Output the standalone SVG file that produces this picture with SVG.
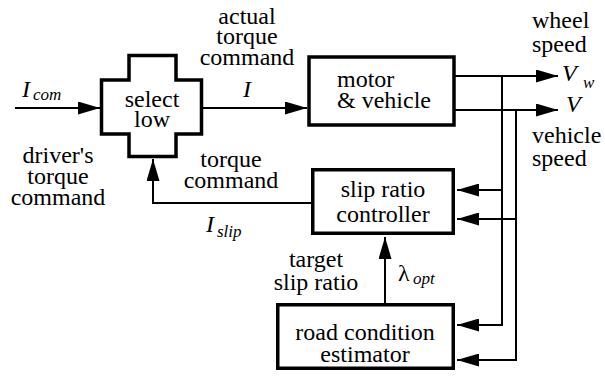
<svg xmlns="http://www.w3.org/2000/svg" width="605" height="376" viewBox="0 0 605 376">
  <style>
    .box { fill: #fff; stroke: #000; stroke-width: 3.5; }
    .wire { fill: none; stroke: #000; stroke-width: 2; }
    .c { text-anchor: middle; }
    .it { font-style: italic; }
    .sub { font-size: 17px; font-style: italic; }
  </style>
  <defs>
    <marker id="arrow" markerUnits="userSpaceOnUse" markerWidth="22" markerHeight="13" refX="22" refY="6.5" orient="auto">
      <path d="M0,0 L22,6.5 L0,13 Z" fill="#000"/>
    </marker>
  </defs>
  <rect width="605" height="376" fill="#fff"/>

  <!-- signal wires -->
  <g id="connectors">
    <path class="wire" d="M15,108 H100" marker-end="url(#arrow)"/>
    <path class="wire" d="M203,108 H307" marker-end="url(#arrow)"/>
    <path class="wire" d="M455,76 H558" marker-end="url(#arrow)"/>
    <path class="wire" d="M455,110 H558" marker-end="url(#arrow)"/>
    <path class="wire" d="M502,76 V325 H457" marker-end="url(#arrow)"/>
    <path class="wire" d="M502,190 H457" marker-end="url(#arrow)"/>
    <path class="wire" d="M516,110 V360 H457" marker-end="url(#arrow)"/>
    <path class="wire" d="M516,219 H457" marker-end="url(#arrow)"/>
    <path class="wire" d="M385,303 V237" marker-end="url(#arrow)"/>
    <path class="wire" d="M311,203 H153 V159" marker-end="url(#arrow)"/>
  </g>

  <g font-family="Liberation Serif, DejaVu Serif, serif" font-size="24" fill="#000">
    <!-- cross-shaped selector -->
    <g id="select-low">
      <path class="box" d="M129,55.5 H176 V80 H201.5 V134 H176 V156.5 H129 V134 H101.5 V80 H129 Z"/>
      <text class="c" x="152" y="107">select</text>
      <text class="c" x="152" y="127">low</text>
    </g>

    <g id="motor-vehicle">
      <rect class="box" x="309" y="57" width="145" height="68"/>
      <text x="337" y="87">motor</text>
      <text x="337" y="108">&amp; vehicle</text>
    </g>

    <g id="slip-ratio-controller">
      <rect class="box" x="312.75" y="169.75" width="140.5" height="63.5"/>
      <text class="c" x="383" y="197">slip ratio</text>
      <text class="c" x="383" y="222">controller</text>
    </g>

    <g id="road-condition-estimator">
      <rect class="box" x="277.75" y="304.75" width="175.5" height="63.5"/>
      <text class="c" x="365" y="340">road condition</text>
      <text class="c" x="365" y="362">estimator</text>
    </g>

    <!-- signal labels -->
    <g id="labels">
      <text class="it" x="22" y="97">I</text>
      <text class="sub" x="33" y="100">com</text>

      <text class="c" x="58" y="163">driver's</text>
      <text class="c" x="58" y="184">torque</text>
      <text class="c" x="58" y="205">command</text>

      <text class="c" x="247" y="24">actual</text>
      <text class="c" x="247" y="44">torque</text>
      <text class="c" x="247" y="65">command</text>
      <text class="it" x="243" y="97">I</text>

      <text class="c" x="231" y="167">torque</text>
      <text class="c" x="231" y="188">command</text>
      <text class="it" x="206" y="232">I</text>
      <text class="sub" x="217" y="237">slip</text>

      <text x="532" y="28">wheel</text>
      <text x="532" y="52">speed</text>
      <text class="it" x="562" y="81">V</text>
      <text class="sub" x="583" y="88">w</text>
      <text class="it" x="566" y="112">V</text>
      <text x="532" y="143">vehicle</text>
      <text x="532" y="166">speed</text>

      <text class="c" x="316" y="267">target</text>
      <text class="c" x="316" y="290">slip ratio</text>
      <text x="398" y="281">λ</text>
      <text class="sub" x="413" y="284">opt</text>
    </g>
  </g>
</svg>
